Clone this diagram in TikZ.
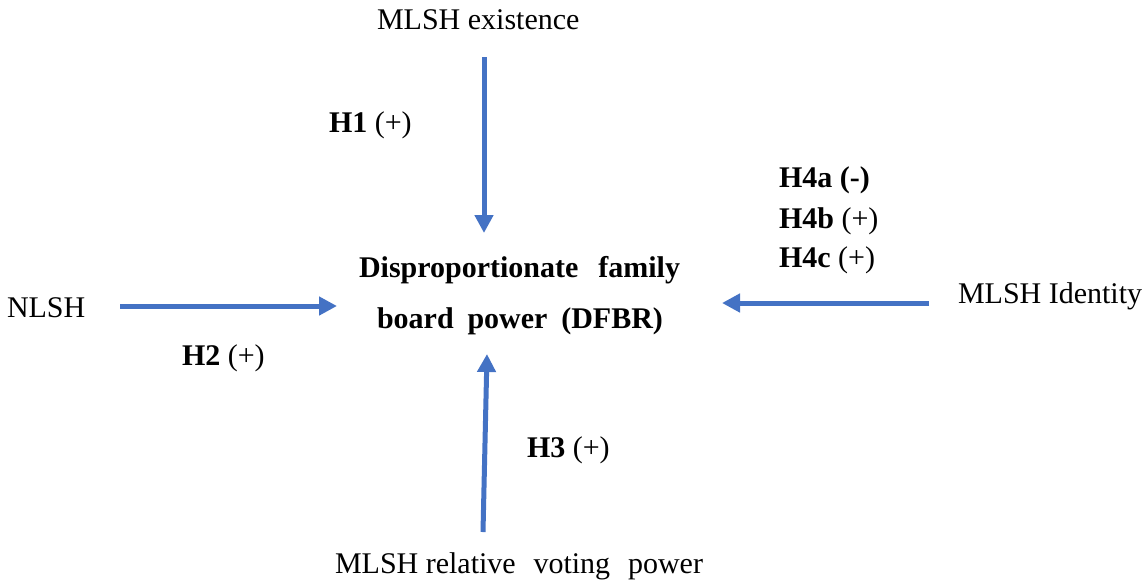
\documentclass[tikz,border=0pt]{standalone}
\usepackage{fontspec}
\setmainfont{Liberation Serif}
\usetikzlibrary{arrows.meta}
\definecolor{arrowblue}{HTML}{4472C4}
\begin{document}
\begin{tikzpicture}[x=0.5pt,y=-0.5pt,
  lbl/.style={inner sep=0pt,outer sep=0pt,anchor=base west,font=\fontsize{15}{18}\selectfont},
  arr/.style={draw=arrowblue,line width=2.5pt,-{Triangle[length=9pt,width=9pt]}}]
\useasboundingbox (0,0) rectangle (1148,586);
% texts
\node[lbl] (exist) at (377,29) {MLSH existence};
\node[lbl] (nlsh) at (7,317) {NLSH};
\node[lbl] (ident) at (958,303) {MLSH Identity};
\node[lbl] (vote) at (335,573) {\makebox[184pt][s]{\mbox{MLSH relative} voting power}};
\node[lbl] (dfbr1) at (359,277) {\makebox[160.5pt][s]{\bfseries Disproportionate family}};
\node[lbl] (dfbr2) at (377,328) {\makebox[143pt][s]{\bfseries board power (DFBR)}};
\node[lbl] (h1) at (329,132) {\textbf{H1} (+)};
\node[lbl] (h2) at (182,365) {\textbf{H2} (+)};
\node[lbl] (h3) at (527,457) {\textbf{H3} (+)};
\node[lbl] (h4a) at (779,187) {\textbf{H4a (-)}};
\node[lbl] (h4b) at (779,228) {\textbf{H4b} (+)};
\node[lbl] (h4c) at (779,267) {\textbf{H4c} (+)};
% connector end points
\coordinate (s1) at (484,57);
\coordinate (e1) at (484,233);
\coordinate (s2) at (120,306);
\coordinate (e2) at (337,306);
\coordinate (s3) at (483,532);
\coordinate (e3) at (487,354);
\coordinate (s4) at (929,303);
\coordinate (e4) at (722,303);
\draw[arr] (s1) -- (e1);
\draw[arr] (s2) -- (e2);
\draw[arr] (s3) -- (e3);
\draw[arr] (s4) -- (e4);
\end{tikzpicture}
\end{document}
